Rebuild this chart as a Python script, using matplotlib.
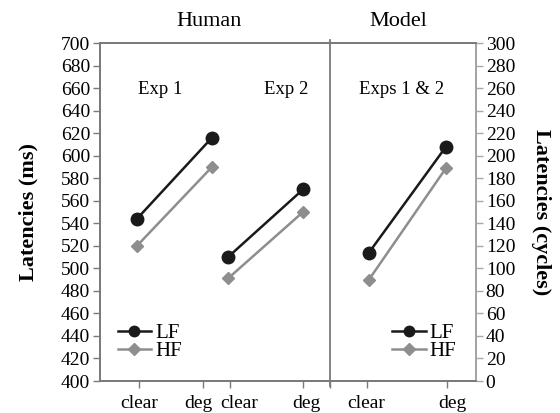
import matplotlib
matplotlib.use("Agg")
import matplotlib.pyplot as plt
from matplotlib.lines import Line2D

# ---- data ----
conditions = ["clear", "deg"]
exp1_LF = [544, 616]
exp1_HF = [520, 590]
exp2_LF = [510, 570]
exp2_HF = [491, 550]
model_LF = [114, 208]
model_HF = [90, 189]
left_ticks = list(range(400, 701, 20))
right_ticks = list(range(0, 301, 20))
panel_titles = ["Exp 1", "Exp 2", "Exps 1 & 2"]
group_titles = ["Human", "Model"]

plt.rcParams['font.family'] = ['Liberation Serif', 'DejaVu Serif']

BLACK = "#1a1a1a"
GRAY = "#8e8e8e"
SPINE = "#7a7a7a"

fig = plt.figure(figsize=(5.6, 4.13), dpi=100)
ax = fig.add_axes([100/560, 1-381/413, 376/560, 338/413])
ax2 = ax.twinx()

# layout (x units = px/10 from left spine)
xmax = 37.6
ex1 = [3.7, 11.2]
ex2 = [12.8, 20.3]
exm = [26.9, 34.6]
tick_x = [3.9, 10.3, 13.0, 20.3, 23.0, 26.7, 34.7]
label_x = [3.9, 9.85, 13.9, 20.67, 26.6, 35.2]
sep_x = 23.0

lkw = dict(lw=1.8)
ax.plot(ex1, exp1_LF, color=BLACK, marker='o', ms=9, **lkw, zorder=3)
ax.plot(ex1, exp1_HF, color=GRAY, marker='D', ms=6.5, **lkw, zorder=3)
ax.plot(ex2, exp2_LF, color=BLACK, marker='o', ms=9, **lkw, zorder=3)
ax.plot(ex2, exp2_HF, color=GRAY, marker='D', ms=6.5, **lkw, zorder=3)
ax2.plot(exm, model_LF, color=BLACK, marker='o', ms=9, **lkw, zorder=3)
ax2.plot(exm, model_HF, color=GRAY, marker='D', ms=6.5, **lkw, zorder=3)

ax.set_xlim(0, xmax)
ax.set_ylim(400, 700)
ax2.set_ylim(0, 300)
ax.set_yticks(left_ticks)
ax2.set_yticks(right_ticks)

ax.xaxis.remove_overlapping_locs = False
ax.set_xticks(tick_x)
ax.set_xticklabels([])
ax.set_xticks(label_x, minor=True)
ax.set_xticklabels(conditions * 3, minor=True)
ax.tick_params(axis='x', which='major', direction='out', length=5, width=1, color=SPINE)
ax.tick_params(axis='x', which='minor', length=0, labelsize=14, pad=10)
ax.tick_params(axis='y', direction='out', length=5, width=1, color=SPINE, labelsize=14, pad=2)
ax2.tick_params(axis='y', direction='out', length=5, width=1, color="#a8a8a8", labelsize=14, pad=2)

for a in (ax, ax2):
    for s in a.spines.values():
        s.set_color(SPINE)
        s.set_linewidth(1.3)
ax2.spines['right'].set_color("#a8a8a8")

ax.axvline(sep_x, ymin=-0.015, ymax=1.01, color=SPINE, lw=1.3, clip_on=False)

ax.set_ylabel("Latencies (ms)", fontsize=16, fontweight='bold', labelpad=16)
ax2.set_ylabel("Latencies (cycles)", fontsize=16, fontweight='bold', rotation=270, labelpad=26)

# panel titles
ax.text(6.0, 659, panel_titles[0], ha='center', va='center', fontsize=13.5)
ax.text(18.6, 659, panel_titles[1], ha='center', va='center', fontsize=13.5)
ax.text(30.2, 659, panel_titles[2], ha='center', va='center', fontsize=13.5)
fig.text(209/560, 1-22/413, group_titles[0], ha='center', va='center', fontsize=16)
fig.text(398/560, 1-22/413, group_titles[1], ha='center', va='center', fontsize=16)

handles = [Line2D([], [], color=BLACK, marker='o', ms=7.5, lw=1.8),
           Line2D([], [], color=GRAY, marker='D', ms=6, lw=1.8)]
leg1 = ax.legend(handles, ["LF", "HF"], loc='lower left', bbox_to_anchor=(0.025, 0.035),
                 frameon=False, fontsize=15, handlelength=1.6, handletextpad=0.2,
                 labelspacing=-0.1, borderaxespad=0)
leg2 = ax2.legend(handles, ["LF", "HF"], loc='lower left', bbox_to_anchor=(0.755, 0.035),
                  frameon=False, fontsize=15, handlelength=1.6, handletextpad=0.2,
                  labelspacing=-0.1, borderaxespad=0)

fig.savefig("out.png", dpi=100)
